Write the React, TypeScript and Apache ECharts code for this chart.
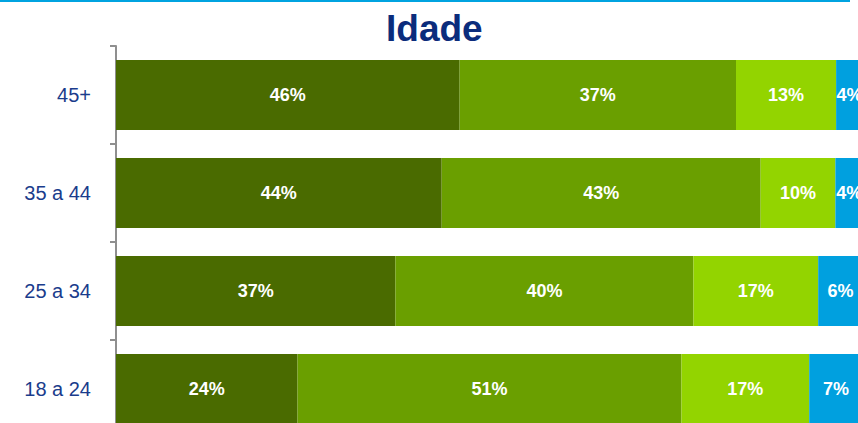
import React, { useEffect, useRef } from "react";
import * as echarts from "echarts";

const categories = ["18 a 24", "25 a 34", "35 a 44", "45+"];
const seriesNames = ["A", "B", "C", "D"];
const darkGreen = [24.3, 37.4, 43.6, 46.0];
const midGreen = [51.4, 39.9, 42.7, 37.0];
const lightGreen = [17.1, 16.7, 10.0, 13.4];
const blue = [7.4, 6.4, 4.0, 4.0];
const colors = ["#4A6B00", "#6A9F00", "#93D400", "#00A0DF"];
const FONT = "'Liberation Sans', Arial, sans-serif";

export default function App() {
  const ref = useRef<HTMLDivElement>(null);
  useEffect(() => {
    if (!ref.current) return;
    const chart = echarts.init(ref.current, null, { renderer: "svg" });
    const data = [darkGreen, midGreen, lightGreen, blue];
    chart.setOption({
      animation: false,
      title: {
        text: "Idade",
        left: 381,
        top: 5,
        textStyle: { fontFamily: FONT, fontSize: 37, fontWeight: "bold", color: "#0B2C7C" },
      },
      graphic: [
        { type: "rect", shape: { x: 0, y: 0, width: 850, height: 2 }, style: { fill: "#00A3E0" } },
      ],
      grid: {
        left: 116,
        top: 46,
        right: -5,
        bottom: -15,
        containLabel: false,
        outerBoundsMode: "none",
      },
      xAxis: {
        type: "value",
        min: 0,
        max: 100,
        show: false,
      },
      yAxis: {
        type: "category",
        data: categories,
        offset: 1,
        axisLine: { show: true, lineStyle: { color: "#8F8F8F", width: 2 } },
        axisTick: { show: true, length: 6, lineStyle: { color: "#8F8F8F", width: 2 } },
        axisLabel: { margin: 24, fontFamily: FONT, fontSize: 20, color: "#1A3C8C" },
        splitLine: { show: false },
      },
      series: data.map((vals, i) => ({
        name: seriesNames[i],
        type: "bar",
        stack: "total",
        barWidth: 70,
        data: vals,
        itemStyle: { color: colors[i] },
        label: {
          show: true,
          position: "inside",
          color: "#FFFFFF",
          fontFamily: FONT,
          fontSize: 18,
          fontWeight: "bold",
          formatter: (p: any) => Math.round(p.value) + "%",
        },
      })),
    });
    return () => chart.dispose();
  }, []);
  return (
    <div
      ref={ref}
      style={{ position: "fixed", left: 0, top: 0, width: 858, height: 423, background: "#fff" }}
    />
  );
}
